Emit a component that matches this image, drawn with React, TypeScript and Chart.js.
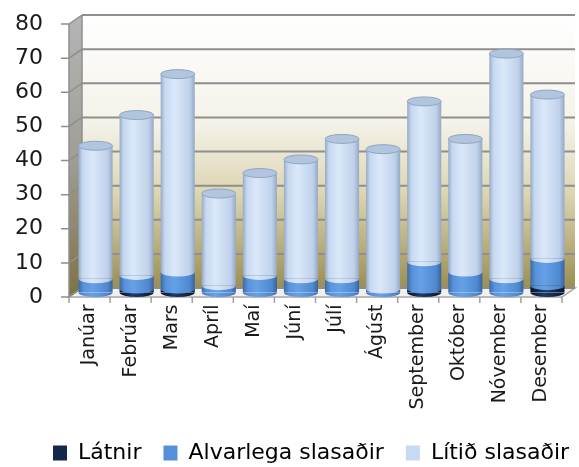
import React, { useEffect, useRef } from "react";
import { Chart, registerables } from "chart.js";

Chart.register(...registerables);

const categories = [
  "Janúar", "Febrúar", "Mars", "Apríl", "Maí", "Júní",
  "Júlí", "Ágúst", "September", "Október", "Nóvember", "Desember",
];
const latnir = [0, 1, 1, 0, 0, 0, 0, 0, 1, 0, 0, 2];
const alvarlega = [4, 4, 5, 2, 5, 4, 4, 1, 8, 6, 4, 8];
const litid = [39, 47, 58, 27, 30, 35, 41, 41, 47, 39, 66, 48];
const seriesNames = ["Látnir", "Alvarlega slasaðir", "Lítið slasaðir"];
const yMin = 0;
const yMax = 80;
const yStep = 10;

const BAR_PCT = 0.83;
const FONT = "'DejaVu Sans', sans-serif";
const BACK_DX = 7, BACK_DY = -4.5, FRONT_DX = -6, FRONT_DY = 4.5;
const LEGEND_FONT = 22;
const LEGEND_PAD = 22;
const LEGEND_SHIFT = 31;
const PAD_BOTTOM = -7;
const CHART_BOTTOM = 292.5;

const legendColors = ["#13294a", "#5590dc", "#c6daf3"];
const gradStops: [number, string][][] = [
  [[0, "#06132a"], [0.4, "#1d3b66"], [1, "#071831"]],
  [[0, "#3b6aa8"], [0.15, "#5892da"], [0.4, "#66a1e7"], [0.85, "#4f88cf"], [1, "#3762a0"]],
  [[0, "#97aac5"], [0.12, "#c6d8f0"], [0.4, "#dbe8fa"], [0.85, "#bfd1ea"], [1, "#95a8c4"]],
];

function barGrad(chart: any, cx: number, w: number, series: number) {
  const g = chart.ctx.createLinearGradient(cx - w / 2, 0, cx + w / 2, 0);
  gradStops[series].forEach(([o, c]) => g.addColorStop(o, c));
  return g;
}

function scriptColor(series: number) {
  return (ctx: any) => {
    const chart = ctx.chart;
    const xs = chart.scales && chart.scales.x;
    if (!xs || ctx.dataIndex === undefined || !xs.width) return legendColors[series];
    const cx = xs.getPixelForValue(ctx.dataIndex);
    const w = (xs.width / categories.length) * BAR_PCT;
    return barGrad(chart, cx, w, series);
  };
}

const legendShift = {
  id: "legendShift",
  afterLayout(chart: any) {
    const lg = chart.legend;
    if (lg) {
      lg.left += LEGEND_SHIFT;
      lg.right += LEGEND_SHIFT;
    }
  },
};

const frame3d = {
  id: "frame3d",
  beforeDatasetsDraw(chart: any) {
    const { ctx, chartArea, scales } = chart;
    const { left, right, top, bottom } = chartArea;
    const y = scales.y;
    ctx.save();
    const bt = top + BACK_DY, bb = bottom + BACK_DY;
    const g = ctx.createLinearGradient(0, bt, 0, bb);
    g.addColorStop(0, "#ffffff");
    g.addColorStop(0.4, "#f4f2e8");
    g.addColorStop(0.65, "#ddd6b2");
    g.addColorStop(1, "#9c8e52");
    ctx.fillStyle = g;
    ctx.fillRect(left + BACK_DX, bt, right - left, bb - bt);
    const sg = ctx.createLinearGradient(0, top, 0, bottom);
    sg.addColorStop(0, "#b4b4b4");
    sg.addColorStop(0.5, "#a09e96");
    sg.addColorStop(1, "#7e7448");
    ctx.fillStyle = sg;
    ctx.beginPath();
    ctx.moveTo(left + FRONT_DX, top + FRONT_DY);
    ctx.lineTo(left + BACK_DX, top + BACK_DY);
    ctx.lineTo(left + BACK_DX, bottom + BACK_DY);
    ctx.lineTo(left + FRONT_DX, bottom + FRONT_DY);
    ctx.closePath();
    ctx.fill();
    ctx.fillStyle = "#f0f0f0";
    ctx.beginPath();
    ctx.moveTo(left + FRONT_DX, bottom + FRONT_DY);
    ctx.lineTo(right + FRONT_DX, bottom + FRONT_DY);
    ctx.lineTo(right + BACK_DX, bottom + BACK_DY);
    ctx.lineTo(left + BACK_DX, bottom + BACK_DY);
    ctx.closePath();
    ctx.fill();
    ctx.strokeStyle = "#a6a6a6";
    ctx.lineWidth = 1.5;
    ctx.stroke();
    ctx.strokeStyle = "#8e8e8e";
    for (let v = yMin; v <= yMax; v += yStep) {
      const py = y.getPixelForValue(v);
      ctx.lineWidth = 2;
      ctx.beginPath();
      ctx.moveTo(left + BACK_DX, py + BACK_DY);
      ctx.lineTo(right + BACK_DX, py + BACK_DY);
      ctx.stroke();
      ctx.lineWidth = 1.5;
      ctx.beginPath();
      ctx.moveTo(left + FRONT_DX - 8, py + FRONT_DY);
      ctx.lineTo(left + FRONT_DX, py + FRONT_DY);
      ctx.lineTo(left + BACK_DX, py + BACK_DY);
      ctx.stroke();
    }
    ctx.lineWidth = 1.5;
    ctx.beginPath();
    ctx.moveTo(left + FRONT_DX, top + FRONT_DY);
    ctx.lineTo(left + FRONT_DX, bottom + FRONT_DY);
    ctx.moveTo(left + BACK_DX, top + BACK_DY);
    ctx.lineTo(left + BACK_DX, bottom + BACK_DY);
    ctx.stroke();
    ctx.strokeStyle = "#a0a0a0";
    const n = categories.length;
    for (let i = 0; i <= n; i++) {
      const px = left + (i * (right - left)) / n + FRONT_DX;
      ctx.beginPath();
      ctx.moveTo(px, bottom + FRONT_DY);
      ctx.lineTo(px, bottom + FRONT_DY + 6);
      ctx.stroke();
    }
    ctx.restore();
  },
  afterDatasetsDraw(chart: any) {
    const { ctx } = chart;
    const metas = [0, 1, 2].map((i) => chart.getDatasetMeta(i));
    const values = [latnir, alvarlega, litid];
    const ry = 4.5;
    ctx.save();
    for (let i = 0; i < categories.length; i++) {
      let topEl: any = null;
      for (let s = 0; s < 3; s++) {
        if (!values[s][i]) continue;
        const el = metas[s].data[i];
        const w = el.width;
        ctx.fillStyle = barGrad(chart, el.x, w, s);
        ctx.beginPath();
        ctx.ellipse(el.x, el.base, w / 2, ry, 0, 0, Math.PI);
        ctx.closePath();
        ctx.fill();
        topEl = el;
      }
      if (topEl) {
        const w = topEl.width;
        ctx.fillStyle = "#b2c5df";
        ctx.strokeStyle = "#90a6c4";
        ctx.lineWidth = 1;
        ctx.beginPath();
        ctx.ellipse(topEl.x, topEl.y, w / 2, ry, 0, 0, Math.PI * 2);
        ctx.fill();
        ctx.stroke();
      }
    }
    ctx.restore();
  },
};

export default function App() {
  const ref = useRef<HTMLCanvasElement | null>(null);
  useEffect(() => {
    if (!ref.current) return;
    const data = [latnir, alvarlega, litid];
    const chart = new Chart(ref.current, {
      type: "bar",
      data: {
        labels: categories,
        datasets: data.map((d, s) => ({
          label: seriesNames[s],
          data: d,
          backgroundColor: scriptColor(s),
          borderWidth: 0,
          barPercentage: BAR_PCT,
          categoryPercentage: 1,
        })),
      },
      options: {
        animation: false,
        responsive: true,
        maintainAspectRatio: false,
        layout: { padding: { top: 19.5, right: 0, left: 0, bottom: PAD_BOTTOM } },
        plugins: {
          tooltip: { enabled: false },
          legend: {
            position: "bottom",
            align: "start",
            labels: {
              font: { family: FONT, size: LEGEND_FONT },
              color: "#1a1a1a",
              boxWidth: 14,
              boxHeight: 15,
              padding: LEGEND_PAD,
              generateLabels: () =>
                seriesNames.map((name, s) => ({
                  text: name,
                  fillStyle: legendColors[s],
                  strokeStyle: legendColors[s],
                  lineWidth: 0,
                  datasetIndex: s,
                  hidden: false,
                })),
            },
          },
        },
        scales: {
          x: {
            stacked: true,
            grid: { display: false, drawTicks: true, tickLength: 12 },
            border: { display: false },
            ticks: {
              autoSkip: false,
              maxRotation: 90,
              minRotation: 90,
              padding: 0,
              labelOffset: FRONT_DX,
              font: { family: FONT, size: 19 },
              color: "#1a1a1a",
            },
            afterFit: (scale: any) => {
              scale.height = 467 - PAD_BOTTOM - CHART_BOTTOM - (LEGEND_FONT + LEGEND_PAD + 10);
              scale.paddingRight = 11;
              scale.paddingLeft = 0;
            },
          },
          y: {
            stacked: true,
            min: yMin,
            max: yMax,
            grid: { display: false, drawTicks: true, tickLength: 30 },
            border: { display: false },
            ticks: {
              stepSize: yStep,
              autoSkip: false,
              padding: 2,
              labelOffset: FRONT_DY,
              font: { family: FONT, size: 22 },
              color: "#1a1a1a",
            },
            afterFit: (scale: any) => {
              scale.width = 75;
            },
          },
        },
      },
      plugins: [frame3d, legendShift],
    });
    return () => chart.destroy();
  }, []);
  return (
    <div style={{ position: "absolute", left: 0, top: 0, width: 579, height: 467, background: "#fff", overflow: "hidden" }}>
      <canvas ref={ref} />
    </div>
  );
}
